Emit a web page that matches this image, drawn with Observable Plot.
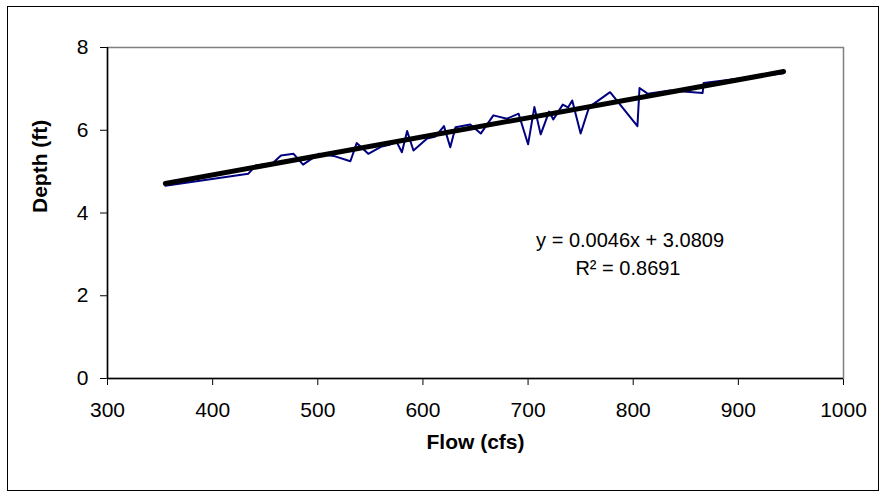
<!DOCTYPE html>
<html>
<head>
<meta charset="utf-8">
<script src="https://cdn.jsdelivr.net/npm/d3@7"></script>
<script src="https://cdn.jsdelivr.net/npm/@observablehq/plot@0.6"></script>
<style>
  html, body { margin: 0; padding: 0; background: #fff; }
  #wrap { position: relative; width: 885px; height: 496px; }
  #border { position: absolute; left: 7px; top: 6px; width: 870px; height: 483px; border: 1px solid #000; pointer-events: none; }
</style>
</head>
<body>
<div id="wrap"><div id="border"></div></div>
<script>
// Observed flow (cfs) and depth (ft)
const flow  = [355, 434, 441, 457, 465, 477, 486, 501, 515, 531, 537, 548, 560, 568, 575, 580, 585, 591, 604, 612, 620, 626, 631, 645, 655, 667, 680, 691, 700, 706, 712, 720, 724, 733, 738, 742, 750, 758, 778, 804, 806, 814, 835, 857, 866, 867, 943];
const depth = [4.66, 4.95, 5.15, 5.2, 5.39, 5.43, 5.17, 5.43, 5.38, 5.25, 5.69, 5.43, 5.6, 5.65, 5.72, 5.47, 5.98, 5.51, 5.8, 5.85, 6.1, 5.59, 6.07, 6.14, 5.92, 6.36, 6.28, 6.4, 5.66, 6.56, 5.9, 6.45, 6.26, 6.62, 6.55, 6.72, 5.92, 6.56, 6.92, 6.1, 7.02, 6.88, 6.96, 6.92, 6.9, 7.14, 7.38];

// Linear trendline from the chart's equation
const slope = 0.0046;
const intercept = 3.0809;
const r2 = 0.8691;

const xTicks = [300, 400, 500, 600, 700, 800, 900, 1000];
const yTicks = [0, 2, 4, 6, 8];

const eqText = `y = ${slope}x + ${intercept}`;
const r2Text = `R\u00B2 = ${r2}`;

const data = flow.map((f, i) => ({flow: f, depth: depth[i]}));
const ext = d3.extent(flow);
const trend = ext.map(x => ({flow: x, depth: slope * x + intercept}));

const font = "Arial, 'Liberation Sans', sans-serif";

const chart = Plot.plot({
  width: 885,
  height: 496,
  marginLeft: 107,
  marginRight: 42,
  marginTop: 47,
  marginBottom: 118,
  style: {fontFamily: font, fontSize: "21px", color: "#000", background: "transparent", overflow: "visible"},
  x: {domain: [300, 1000], ticks: xTicks, tickSize: 7, tickPadding: 17, label: null, tickFormat: d => String(d)},
  y: {domain: [0, 8], ticks: yTicks, tickSize: 7, tickPadding: 12, label: null, tickFormat: d => String(d)},
  marks: [
    Plot.frame({stroke: "#808080", strokeWidth: 1.5}),
    Plot.ruleY([0], {stroke: "#000", strokeWidth: 1.5}),
    Plot.ruleX([300], {stroke: "#000", strokeWidth: 1.5}),
    Plot.line(data, {x: "flow", y: "depth", stroke: "#000080", strokeWidth: 2}),
    Plot.line(trend, {x: "flow", y: "depth", stroke: "#000", strokeWidth: 5}),
    Plot.text([eqText], {x: 797, y: 3.34, text: d => d, textAnchor: "middle", fontSize: 20, fill: "#000"}),
    Plot.text([r2Text], {x: 795, y: 2.66, text: d => d, textAnchor: "middle", fontSize: 20, fill: "#000"}),
    Plot.text(["Flow (cfs)"], {frameAnchor: "bottom", dy: 70, text: d => d, fontWeight: "bold", fontSize: 21, fill: "#000"}),
    Plot.text(["Depth (ft)"], {frameAnchor: "left", dx: -67, rotate: -90, text: d => d, fontWeight: "bold", fontSize: 21, fill: "#000"})
  ]
});
document.getElementById("wrap").prepend(chart);
</script>
</body>
</html>
